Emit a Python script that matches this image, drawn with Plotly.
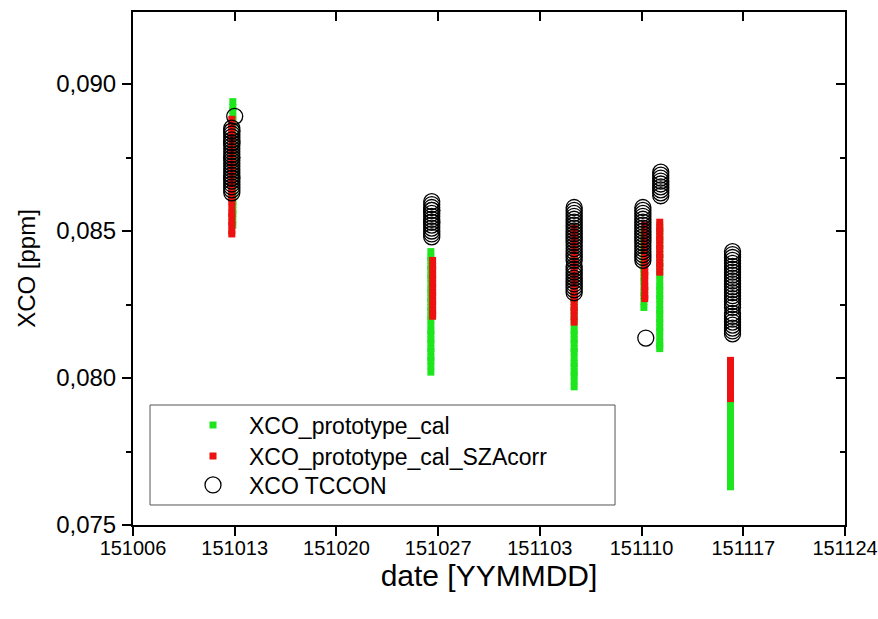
import plotly.graph_objects as go

# ---------------- axis ticks ----------------
tick_days = [0, 7, 14, 21, 28, 35, 42, 49]          # days after 2015-10-06
tick_labels = ["151006", "151013", "151020", "151027", "151103", "151110", "151117", "151124"]
y_ticks = [0.075, 0.080, 0.085, 0.090]
y_tick_labels = ["0,075", "0,080", "0,085", "0,090"]
y_minor = [0.0775, 0.0825, 0.0875]

# ---------------- XCO_prototype_cal (green) ----------------
cal_days = [6.87, 20.50, 30.36, 35.16, 36.25, 41.12]
cal_1013 = [0.0894, 0.0892, 0.0891, 0.0889, 0.0888, 0.0886, 0.0885, 0.0883, 0.0882, 0.0880,
            0.0879, 0.0877, 0.0876, 0.0874, 0.0873, 0.0871, 0.0870, 0.0868, 0.0867, 0.0865,
            0.0863, 0.0862, 0.0860, 0.0859, 0.0857, 0.0856, 0.0854, 0.0852]
cal_1026 = [0.0843, 0.0841, 0.0840, 0.0838, 0.0837, 0.0835, 0.0834, 0.0832, 0.0830, 0.0829,
            0.0827, 0.0826, 0.0824, 0.0823, 0.0821, 0.0820, 0.0818, 0.0816, 0.0815, 0.0813,
            0.0812, 0.0810, 0.0809, 0.0807, 0.0806, 0.0804, 0.0802]
cal_1105 = [0.0851, 0.0849, 0.0848, 0.0846, 0.0845, 0.0843, 0.0842, 0.0840, 0.0838, 0.0837,
            0.0835, 0.0834, 0.0832, 0.0831, 0.0829, 0.0827, 0.0826, 0.0824, 0.0823, 0.0821,
            0.0820, 0.0818, 0.0816, 0.0815, 0.0813, 0.0812, 0.0810, 0.0809, 0.0807, 0.0805,
            0.0804, 0.0802, 0.0801, 0.0799, 0.0797]
cal_1110 = [0.0850, 0.0848, 0.0847, 0.0845, 0.0844, 0.0842, 0.0840, 0.0839, 0.0837, 0.0836,
            0.0834, 0.0833, 0.0831, 0.0829, 0.0828, 0.0826, 0.0824]
cal_1111 = [0.0852, 0.0850, 0.0849, 0.0847, 0.0846, 0.0844, 0.0842, 0.0841, 0.0839, 0.0838,
            0.0836, 0.0835, 0.0833, 0.0831, 0.0830, 0.0828, 0.0827, 0.0825, 0.0823, 0.0822,
            0.0820, 0.0819, 0.0817, 0.0816, 0.0814, 0.0812, 0.0811, 0.0810]
cal_1116 = [0.0805, 0.0803, 0.0802, 0.0800, 0.0799, 0.0797, 0.0795, 0.0794, 0.0792, 0.0791,
            0.0789, 0.0788, 0.0786, 0.0784, 0.0783, 0.0781, 0.0780, 0.0778, 0.0777, 0.0775,
            0.0773, 0.0772, 0.0770, 0.0769, 0.0767, 0.0766, 0.0764, 0.0763]

# ---------------- XCO_prototype_cal_SZAcorr (red) ----------------
sza_days = [6.80, 20.62, 30.36, 35.22, 36.25, 41.12]
sza_1013 = [0.0888, 0.0886, 0.0885, 0.0883, 0.0882, 0.0880, 0.0878, 0.0877, 0.0875, 0.0874,
            0.0872, 0.0871, 0.0869, 0.0867, 0.0866, 0.0864, 0.0863, 0.0861, 0.0860, 0.0858,
            0.0856, 0.0855, 0.0853, 0.0852, 0.0850, 0.0849]
sza_1026 = [0.0840, 0.0838, 0.0837, 0.0835, 0.0834, 0.0832, 0.0831, 0.0829, 0.0828, 0.0826,
            0.0825, 0.0823, 0.0822, 0.0821]
sza_1105 = [0.0851, 0.0849, 0.0848, 0.0846, 0.0845, 0.0843, 0.0841, 0.0840, 0.0838, 0.0837,
            0.0835, 0.0834, 0.0832, 0.0830, 0.0829, 0.0827, 0.0826, 0.0824, 0.0823, 0.0821,
            0.0819]
sza_1110 = [0.0852, 0.0850, 0.0849, 0.0847, 0.0846, 0.0844, 0.0842, 0.0841, 0.0839, 0.0838,
            0.0836, 0.0835, 0.0833, 0.0831, 0.0830, 0.0828, 0.0827]
sza_1111 = [0.0853, 0.0851, 0.0850, 0.0848, 0.0847, 0.0845, 0.0844, 0.0842, 0.0841, 0.0839,
            0.0838, 0.0836]
sza_1116 = [0.0806, 0.0805, 0.0803, 0.0802, 0.0800, 0.0799, 0.0797, 0.0796, 0.0794, 0.0793]

# ---------------- XCO TCCON (open circles) ----------------
tccon_days = [6.80, 7.00, 20.56, 30.36, 35.09, 35.29, 36.32, 41.26]
tccon_1013 = [0.0885, 0.0884, 0.0884, 0.0883, 0.0882, 0.0881, 0.0880, 0.0880, 0.0879, 0.0878,
              0.0877, 0.0876, 0.0875, 0.0875, 0.0874, 0.0873, 0.0872, 0.0871, 0.0870, 0.0869,
              0.0868, 0.0868, 0.0867, 0.0866, 0.0865, 0.0864, 0.0863]
tccon_1013_late = [0.0889]
tccon_1026 = [0.0860, 0.0859, 0.0858, 0.0857, 0.0857, 0.0856, 0.0855, 0.0854, 0.0853, 0.0853,
              0.0852, 0.0851, 0.0850, 0.0849, 0.0848]
tccon_1105 = [0.0858, 0.0857, 0.0856, 0.0855, 0.0854, 0.0853, 0.0852, 0.0851, 0.0850, 0.0849,
              0.0848, 0.0847, 0.0846, 0.0845, 0.0844, 0.0843, 0.0842, 0.0841, 0.0840, 0.0838,
              0.0837, 0.0836, 0.0835, 0.0834, 0.0833, 0.0832, 0.0831, 0.0830, 0.0829]
tccon_1110 = [0.0858, 0.0857, 0.0856, 0.0855, 0.0854, 0.0853, 0.0852, 0.0851, 0.0850, 0.0849,
              0.0848, 0.0847, 0.0846, 0.0845, 0.0844, 0.0843, 0.0842, 0.0841, 0.0840]
tccon_1110_low = [0.08136]
tccon_1111 = [0.0870, 0.0869, 0.0868, 0.0867, 0.0866, 0.0865, 0.0864, 0.0863, 0.0862]
tccon_1116 = [0.0843, 0.0842, 0.0841, 0.0840, 0.0839, 0.0838, 0.0837, 0.0836, 0.0835, 0.0834,
              0.0833, 0.0832, 0.0831, 0.0830, 0.0829, 0.0828, 0.0827, 0.0826, 0.0825, 0.0824,
              0.0822, 0.0821, 0.0820, 0.0819, 0.0818, 0.0817, 0.0816, 0.0815]


def expand(days, groups):
    xs, ys = [], []
    for d, vals in zip(days, groups):
        xs += [d] * len(vals)
        ys += list(vals)
    return xs, ys


cal_x, cal_y = expand(cal_days, [cal_1013, cal_1026, cal_1105, cal_1110, cal_1111, cal_1116])
sza_x, sza_y = expand(sza_days, [sza_1013, sza_1026, sza_1105, sza_1110, sza_1111, sza_1116])
tc_x, tc_y = expand(tccon_days, [tccon_1013, tccon_1013_late, tccon_1026, tccon_1105,
                                 tccon_1110, tccon_1110_low, tccon_1111, tccon_1116])

FONT = "Arial, 'Liberation Sans', sans-serif"
YR = [0.075, 0.09245]
XR = [0, 49]

fig = go.Figure()
fig.add_trace(go.Scatter(x=cal_x, y=cal_y, mode="markers", name="XCO_prototype_cal",
                         legend="legend",
                         marker=dict(symbol="square", size=7, color="#1ee61e", line=dict(width=0))))
fig.add_trace(go.Scatter(x=sza_x, y=sza_y, mode="markers", name="XCO_prototype_cal_SZAcorr",
                         legend="legend2",
                         marker=dict(symbol="square", size=7, color="#ee1111", line=dict(width=0))))
fig.add_trace(go.Scatter(x=tc_x, y=tc_y, mode="markers", name="XCO TCCON",
                         legend="legend3",
                         marker=dict(symbol="circle-open", size=16, color="black",
                                     line=dict(width=1.3, color="black"))))
# helper trace so the mirrored (inside-tick) axes are drawn
fig.add_trace(go.Scatter(x=[None], y=[None], xaxis="x2", yaxis="y2", showlegend=False,
                         hoverinfo="skip"))

axis_common = dict(showline=True, linewidth=2, linecolor="black", showgrid=False,
                   zeroline=False, tickwidth=2, tickcolor="black", automargin=False)

legend_common = dict(x=0.0618, xanchor="left", yanchor="middle",
                     bgcolor="rgba(0,0,0,0)", borderwidth=0, itemwidth=62,
                     font=dict(size=23, family=FONT, color="black"))

fig.update_layout(
    width=878, height=619,
    margin=dict(l=133, r=33, t=12, b=94),
    paper_bgcolor="white", plot_bgcolor="white",
    font=dict(family=FONT, color="black"),
    xaxis=dict(range=XR, tickmode="array", tickvals=tick_days, ticktext=tick_labels,
               ticks="outside", ticklen=9, tickfont=dict(size=20), ticklabelstandoff=-5,
               ticklabeloverflow="allow",
               title=dict(text="date [YYMMDD]", font=dict(size=30), standoff=5),
               **axis_common),
    yaxis=dict(range=YR, tickmode="array", tickvals=y_ticks, ticktext=y_tick_labels,
               ticks="outside", ticklen=9, tickfont=dict(size=24), ticklabelstandoff=1,
               minor=dict(tickvals=y_minor, ticks="outside", ticklen=5, tickwidth=2,
                          tickcolor="black"),
               title=dict(text="XCO [ppm]", font=dict(size=24), standoff=14),
               **axis_common),
    xaxis2=dict(range=XR, overlaying="x", side="top", anchor="y2", tickmode="array",
                tickvals=tick_days, ticks="inside", ticklen=9, showticklabels=False,
                **axis_common),
    yaxis2=dict(range=YR, overlaying="y", side="right", anchor="x2", tickmode="array",
                tickvals=y_ticks, ticks="inside", ticklen=9, showticklabels=False,
                minor=dict(tickvals=y_minor, ticks="inside", ticklen=5, tickwidth=2,
                           tickcolor="black"),
                **axis_common),
    legend=dict(y=0.195, **legend_common),
    legend2=dict(y=0.1346, **legend_common),
    legend3=dict(y=0.078, **legend_common),
    shapes=[dict(type="rect", xref="paper", yref="paper",
                 x0=0.0239, x1=0.677, y0=0.039, y1=0.2339,
                 line=dict(color="#555555", width=1), fillcolor="white", layer="above")],
    showlegend=True,
)

fig.write_html("out.html", config={"displayModeBar": False},
               post_script="document.body.style.margin='0';")
